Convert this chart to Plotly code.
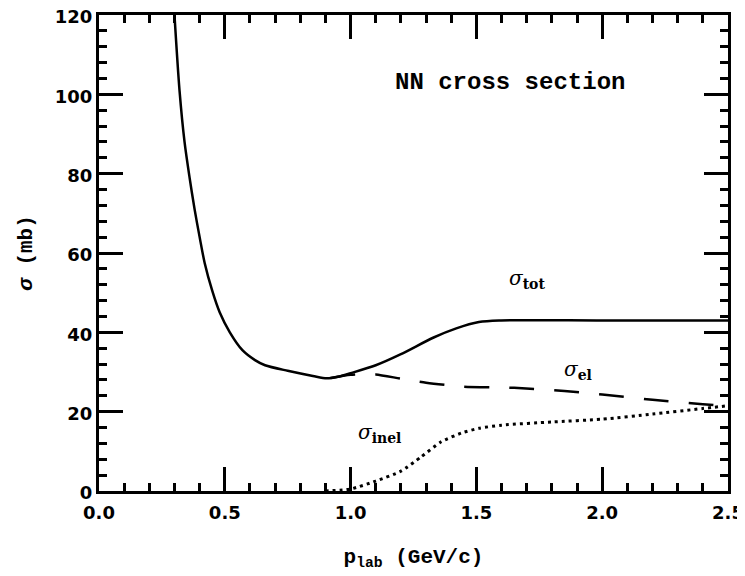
import plotly.graph_objects as go

# total cross section
tot_x = [0.30, 0.32, 0.34, 0.36, 0.38, 0.40, 0.42, 0.45, 0.48, 0.52, 0.57, 0.62, 0.66,
         0.75, 0.85, 0.905, 0.95, 1.0, 1.1, 1.2, 1.33, 1.42, 1.51, 1.59, 2.0, 2.5]
tot_y = [120, 101, 88, 79, 71, 64, 57.5, 50.5, 45.0, 40.0, 35.5, 33.0, 31.7,
         30.3, 29.0, 28.4, 28.8, 29.7, 31.7, 34.5, 38.7, 41.0, 42.6, 43.0, 43.0, 43.0]

# elastic cross section
el_x = [0.92, 1.0, 1.1, 1.2, 1.3, 1.45, 1.65, 1.85, 2.0, 2.2, 2.4, 2.5]
el_y = [28.5, 29.3, 29.4, 28.3, 27.3, 26.3, 26.0, 25.2, 24.3, 23.0, 21.9, 21.3]

# inelastic cross section
inel_x = [0.9, 1.0, 1.1, 1.2, 1.28, 1.36, 1.44, 1.51, 1.6, 1.8, 2.0, 2.2, 2.4, 2.5]
inel_y = [0.0, 0.5, 2.5, 5.0, 8.6, 12.4, 14.6, 15.8, 16.6, 17.4, 18.1, 19.4, 20.8, 21.5]

x_ticks = [0.0, 0.5, 1.0, 1.5, 2.0, 2.5]
y_ticks = [0, 20, 40, 60, 80, 100, 120]

fig = go.Figure()
fig.add_trace(go.Scatter(x=tot_x, y=tot_y, mode="lines",
                         line=dict(color="black", width=2.5, shape="spline", smoothing=0.8)))
fig.add_trace(go.Scatter(x=el_x, y=el_y, mode="lines",
                         line=dict(color="black", width=2.5, dash="25px,20px", shape="spline", smoothing=0.6)))
fig.add_trace(go.Scatter(x=inel_x, y=inel_y, mode="lines",
                         line=dict(color="black", width=3, dash="3px,4px", shape="spline", smoothing=0.6)))

mono = "Liberation Mono"
tickfont = dict(family="DejaVu Sans", size=18, color="black")

fig.update_layout(
    width=737, height=568,
    margin=dict(l=91, r=17, t=7, b=85, autoexpand=False),
    paper_bgcolor="white", plot_bgcolor="white",
    showlegend=False,
    xaxis=dict(range=[0, 2.5], tickvals=x_ticks, ticktext=[f"<b>{v:.1f}</b>" for v in x_ticks],
               automargin=False, ticklabeloverflow="allow", ticklabelstandoff=3,
               ticks="inside", ticklen=24, tickwidth=2.5, tickcolor="black",
               minor=dict(dtick=0.1, ticks="inside", ticklen=8, tickwidth=2.5, tickcolor="black"),
               showline=True, linewidth=3, linecolor="black", mirror="allticks",
               showgrid=False, zeroline=False, tickfont=tickfont,
               title=dict(text="<b>p<sub>lab</sub> (GeV/c)</b>", font=dict(family=mono, size=21, color="black"),
                          standoff=27)),
    yaxis=dict(range=[0, 120], tickvals=y_ticks, ticktext=[f"<b>{v}</b>" for v in y_ticks],
               automargin=False, ticklabeloverflow="allow", ticklabelshift=2,
               ticks="inside", ticklen=24, tickwidth=2.5, tickcolor="black",
               minor=dict(dtick=4, ticks="inside", ticklen=8, tickwidth=2.5, tickcolor="black"),
               showline=True, linewidth=3, linecolor="black", mirror="allticks",
               showgrid=False, zeroline=False, tickfont=tickfont,
               title=dict(text="<b><i>σ</i> (mb)</b>", font=dict(family=mono, size=21, color="black"),
                          standoff=17)),
)

fig.add_annotation(x=1.634, y=103.0, text="<b>NN cross section</b>", showarrow=False,
                   font=dict(family=mono, size=24, color="black"), xanchor="center", yanchor="middle")
fig.add_annotation(x=1.62, y=53.5, text="<i>σ</i><sub><b>tot</b></sub>", showarrow=False,
                   font=dict(family="DejaVu Serif", size=20, color="black"), xanchor="left", yanchor="middle")
fig.add_annotation(x=1.84, y=30.5, text="<i>σ</i><sub><b>el</b></sub>", showarrow=False,
                   font=dict(family="DejaVu Serif", size=20, color="black"), xanchor="left", yanchor="middle")
fig.add_annotation(x=1.02, y=14.5, text="<i>σ</i><sub><b>inel</b></sub>", showarrow=False,
                   font=dict(family="DejaVu Serif", size=20, color="black"), xanchor="left", yanchor="middle")

fig.write_html("out.html")
